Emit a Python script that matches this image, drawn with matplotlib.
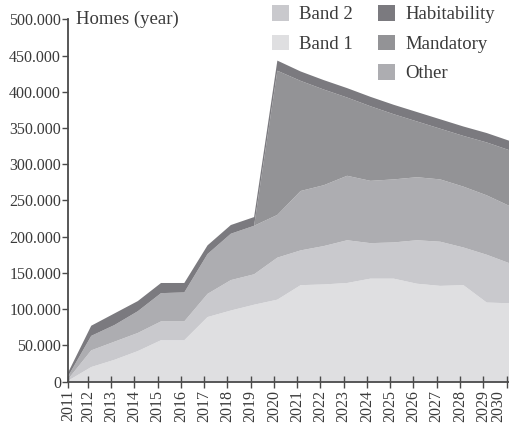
import numpy as np
import matplotlib
matplotlib.use("Agg")
import matplotlib.pyplot as plt
from matplotlib.patches import Patch
from matplotlib.ticker import FuncFormatter

plt.rcParams['font.family'] = ['Liberation Serif', 'DejaVu Serif']

years = list(range(2011, 2031))
# layers, bottom to top
band1 = [1000, 20000, 30000, 42000, 57000, 57000, 89000, 98000, 106000, 113000,
         133000, 134000, 136000, 142000, 142000, 135000, 132000, 133000, 109000, 108000]
band2 = [2000, 23000, 25000, 25000, 26000, 26000, 32000, 42000, 42000, 58000,
         48000, 53000, 59000, 49000, 50000, 60000, 61000, 52000, 66000, 55000]
other = [4000, 20000, 23000, 30000, 39000, 40000, 55000, 64000, 67000, 59000,
         82000, 84000, 89000, 86000, 87000, 87000, 86000, 84000, 82000, 79000]
mandatory = [0, 0, 0, 0, 0, 0, 0, 0, 0, 199000,
             152000, 132000, 108000, 103000, 90000, 77000, 70000, 70000, 73000, 77000]
habitability = [5000, 14000, 16000, 14000, 14000, 13000, 12000, 12000, 12000, 14000,
                13000, 13000, 13000, 13000, 13000, 13000, 13000, 13000, 13000, 13000]

names = ["Band 1", "Band 2", "Other", "Mandatory", "Habitability"]
colors = ["#dfdfe1", "#c9c9cd", "#adadb1", "#939396", "#7b7a7f"]
txt = "#3a3a3a"

fig = plt.figure(figsize=(5.10, 4.29), dpi=100)
ax = fig.add_axes([0.1333, 0.1107, 0.8667, 0.8443])

polys = ax.stackplot(years, band1, band2, other, mandatory, habitability,
                     colors=colors, labels=names, linewidth=0)

ax.set_xlim(2011, 2030)
ax.set_ylim(0, 500000)
ax.set_yticks(np.arange(0, 500001, 50000))
ax.yaxis.set_major_formatter(FuncFormatter(lambda v, p: "0" if v == 0 else f"{int(v):,}".replace(",", ".")))
# ticks sit a little left of the data points in the original
ax.set_xticks([y - 0.15 for y in years[1:]])
xl = ax.set_xticklabels([str(y) for y in years[1:]], rotation=90)
xl[-1].set_horizontalalignment("right")
ax.set_xticks([2011], minor=True)
ax.set_xticklabels(["2011"], minor=True, rotation=90)

for s in ["top", "right"]:
    ax.spines[s].set_visible(False)
for s in ["left", "bottom"]:
    ax.spines[s].set_color("#4a4a4a")
    ax.spines[s].set_linewidth(1.3)
ax.tick_params(axis="y", direction="out", length=4, width=1, color="#4a4a4a",
               labelsize=11.5, labelcolor=txt, pad=1)
ax.tick_params(axis="x", which="both", direction="inout", length=8, width=1, color="#4a4a4a",
               labelsize=11.5, labelcolor=txt, pad=2)

ax.text(2011.35, 500000, "Homes (year)", fontsize=13.5, color=txt, va="center", ha="left")

# legend: two columns, first column has only Band 2 / Band 1
handles = [polys[1], polys[0], Patch(visible=False),
           polys[4], polys[3], polys[2]]
labels = ["Band 2", "Band 1", "", "Habitability", "Mandatory", "Other"]
leg = fig.legend(handles, labels, ncol=2, loc="upper left",
                 bbox_to_anchor=(272 / 510, 1 - 5 / 429), bbox_transform=fig.transFigure,
                 frameon=False, fontsize=13.5, handlelength=0.9, handleheight=0.9,
                 handletextpad=0.55, columnspacing=1.35, labelspacing=0.6,
                 borderpad=0, borderaxespad=0)
for t in leg.get_texts():
    t.set_color(txt)

fig.savefig("out.png", dpi=100)
